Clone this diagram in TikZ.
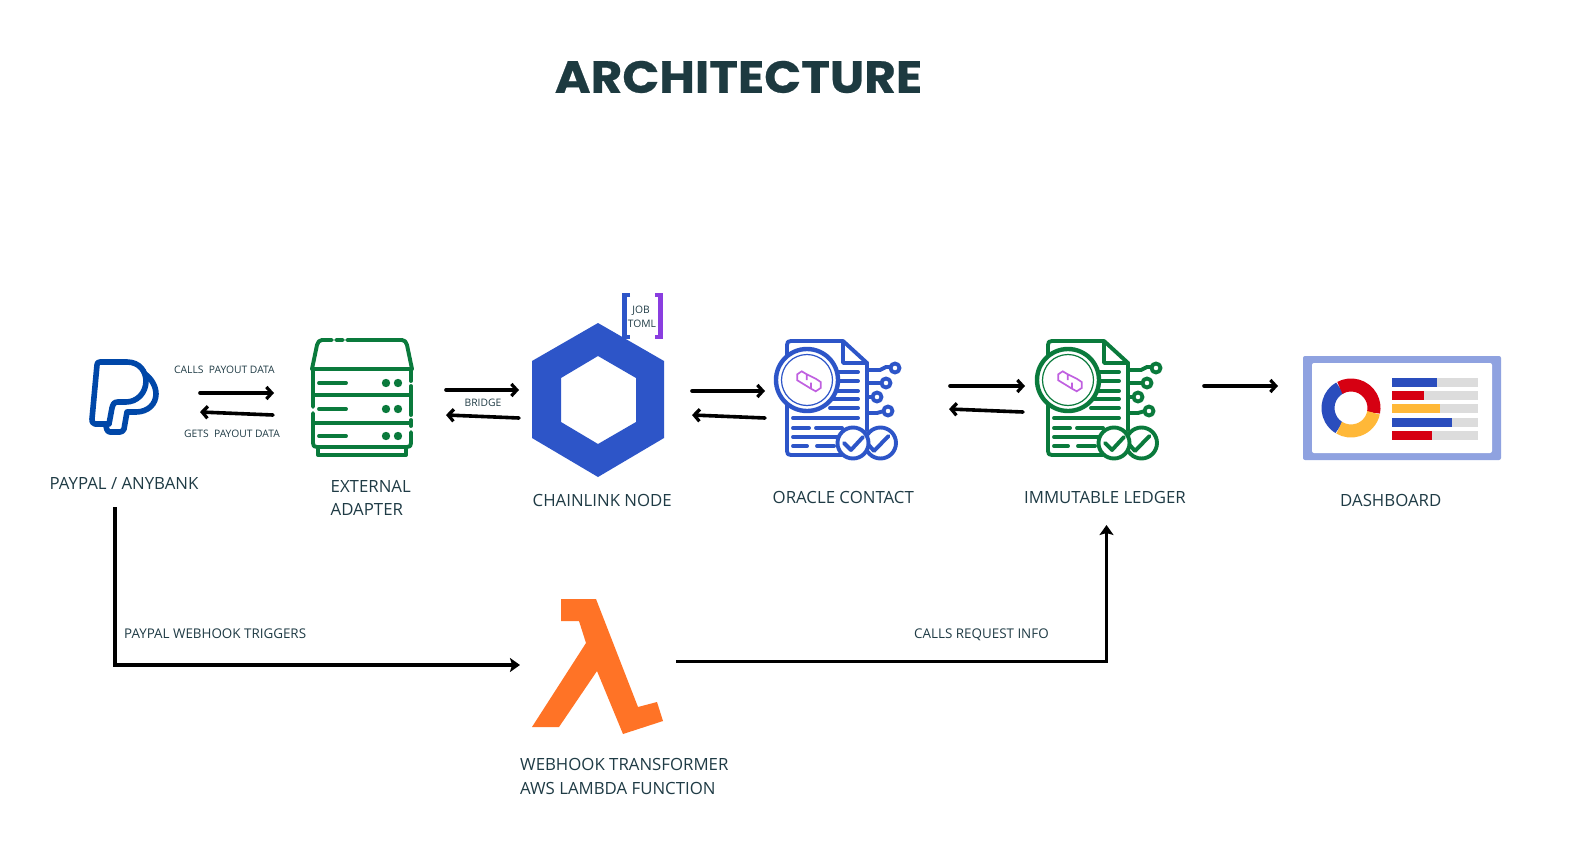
\documentclass[tikz,border=0pt]{standalone}
\usepackage{fontspec}
\setmainfont{Open Sans}
\newfontfamily\titlefont{Poppins}[FakeStretch=1.08,BoldFeatures={FakeBold=0.5}]
\usetikzlibrary{arrows.meta}
\definecolor{txt}{HTML}{1F3B45}
\definecolor{titlec}{HTML}{1D3A40}
\definecolor{cblue}{HTML}{2D55C8}
\definecolor{cgreen}{HTML}{0A7A3C}
\definecolor{cpp}{HTML}{0047A8}
\definecolor{cpink}{HTML}{C060E0}
\definecolor{cviolet}{HTML}{8A3EE0}
\definecolor{clam}{HTML}{FF7326}
\definecolor{dframe}{HTML}{8FA2E0}
\definecolor{dblue}{HTML}{2A4DBD}
\definecolor{dred}{HTML}{D60012}
\definecolor{dyel}{HTML}{FFB838}
\definecolor{dgray}{HTML}{DCDCDC}
\tikzset{
  lab/.style={anchor=west,inner sep=0pt,text=txt,font=\fontsize{16.8}{16.8}\selectfont},
  small/.style={anchor=west,inner sep=0pt,text=txt,font=\fontsize{10.3}{10.3}\selectfont},
  mid/.style={anchor=west,inner sep=0pt,text=txt,font=\fontsize{13.4}{13.4}\selectfont},
  flow/.style={line width=3.6pt,line cap=round,-{Straight Barb[length=5.5pt,width=12pt,line width=3.2pt]}},
  route/.style={line width=3.2pt,-{Stealth[length=10pt,width=14pt,inset=2pt]}},
  icon/.style={line width=3.9pt,line cap=round,line join=round},
}
\newcommand{\docicon}[2]{%
\begin{scope}[shift={(#2,0)},icon,draw=#1]
  \draw (843,341) -- (791,341) .. controls (788,341) and (787,342) .. (787,345) -- (787,451) .. controls (787,454) and (788,455) .. (791,455) -- (842,455);
  \draw (843,341) -- (843,363) -- (867,363) -- cycle;
  \draw (867,363) -- (867,430);
  \foreach \yy in {372,381,391,399,408}{\draw (830,\yy) -- (858,\yy);}
  \draw (793,418) -- (858,418);
  \draw (793,428) -- (809,428) (816,428) -- (842,428);
  \draw (793,437) -- (838,437);
  \draw (793,446) -- (807,446) (817,446) -- (834,446);
  \draw (867,370) -- (880,370) -- (886,367) -- (891,367);
  \draw (867,383) -- (882,383);
  \draw (867,397) -- (873,397);
  \draw (867,413) -- (877,413) -- (884,411);
  \foreach \cx/\cy in {895/368,886/383,877/397,888/411}{\draw[fill=white] (\cx,\cy) circle[radius=4.5];}
  \draw[fill=white] (880.5,443) circle[radius=15.5];
  \draw (874,451) -- (888.5,436) (867,443) -- (874,451);
  \draw[fill=white] (853,443) circle[radius=15.5];
  \draw (844,443) -- (851,450) -- (863,437);
  \draw[fill=white,line width=4.4pt] (807,380) circle[radius=31];
  \draw[line width=1.2pt] (807,380) circle[radius=25.5];
  \draw[cpink,line width=1.7pt,line cap=butt,line join=miter]
    (806.7,380) -- (806.7,374.3) -- (801.7,371.3) -- (797.3,374.3) -- (797.3,380.3) -- (801.7,383) -- (811,388.7) -- (815.7,391.3) -- (820.7,388) -- (820.7,382) -- (815.7,378.7) -- (806.7,374.3)
    (811,388.7) -- (811,382.5);
\end{scope}}
\begin{document}
\begin{tikzpicture}[x=1pt,y=-1pt]
\useasboundingbox (0,0) rectangle (1583,843);
\fill[white] (0,0) rectangle (1583,843);
% title
\node[anchor=center,inner sep=0pt,text=titlec,font=\titlefont\bfseries\fontsize{45}{45}\selectfont] (title) at (738.5,77) {ARCHITECTURE};
% paypal
\begin{scope}[cpp,line width=5.6pt,line join=round,line cap=round]
  \draw (100,362) -- (127,362) .. controls (140,362) and (146,372) .. (146,381) .. controls (146,393) and (137,402) .. (126,402) -- (118,402) .. controls (114,402) and (113,404) .. (112,408) -- (109,424) -- (95,424) .. controls (92,424) and (92,421) .. (92,419) -- (97,365) .. controls (97,363) and (98,362) .. (100,362) -- cycle;
  \draw (145,374) .. controls (152,379) and (156,387) .. (156,394) .. controls (156,404) and (148,412) .. (136,412) -- (127,412) -- (124,429) .. controls (123,431) and (122,432) .. (120,432) -- (110,432) .. controls (107,432) and (106,428) .. (106,424);
\end{scope}
% external adapter
\begin{scope}[cgreen,icon]
  \draw (312,369) -- (317,345) .. controls (318,342) and (319,340) .. (322,340) -- (332,340) (336,340) -- (343,340) (347,340) -- (402,340) .. controls (405,340) and (406,342) .. (407,345) -- (412,369);
  \draw (312,369) -- (412,369);
  \draw (313,369) -- (313,407) (313,413) -- (313,443) .. controls (313,446) and (314,447) .. (317,447) -- (407,447) .. controls (410,447) and (411,446) .. (411,443) -- (411,432);
  \draw (411,369) -- (411,381) (411,386) -- (411,415) (411,420) -- (411,426);
  \draw (313,395) -- (411,395) (313,423) -- (411,423);
  \draw (318,447) -- (318,455) -- (406,455) -- (406,447);
  \foreach \yy in {383,409,436}{
    \draw (319,\yy) -- (346,\yy);
    \fill (386,\yy) circle[radius=4.2];
    \fill (398,\yy) circle[radius=4.2];
  }
\end{scope}
% job bracket
\draw[line width=4.6pt,color=cblue] (630,295) -- (624.5,295) -- (624.5,337) -- (630,337);
\draw[line width=4.6pt,color=cviolet] (655,295) -- (660.5,295) -- (660.5,337) -- (655,337);
\node[inner sep=0pt,text=txt,font=\fontsize{10.3}{10.3}\selectfont] (job) at (641,311) {JOB};
\node[inner sep=0pt,text=txt,font=\fontsize{10.3}{10.3}\selectfont] (toml) at (642,324) {TOML};
% chainlink
\fill[cblue,even odd rule] (598,323) -- (664,361) -- (664,438) -- (598,477) -- (532,438) -- (532,361) -- cycle
  (598,356) -- (636,378) -- (636,422) -- (598,444) -- (561,422) -- (561,378) -- cycle;
\docicon{cblue}{0}
\docicon{cgreen}{261}
% dashboard
\fill[dframe,rounded corners=2pt] (1303,356) rectangle (1501,460);
\fill[white,rounded corners=2pt] (1312,363) rectangle (1492,453);
\begin{scope}[line width=13pt]
  \draw[dblue] ([shift={(-119:23)}]1351,408) arc[start angle=-119,end angle=-239,radius=23];
  \draw[dred] ([shift={(-119:23)}]1351,408) arc[start angle=-119,end angle=12,radius=23];
  \draw[dyel] ([shift={(12:23)}]1351,408) arc[start angle=12,end angle=121,radius=23];
\end{scope}
\foreach \yy/\xx/\cc in {378/1437/dblue,391/1424/dred,404/1440/dyel,418/1452/dblue,431/1432/dred}{
  \fill[dgray] (1392,\yy) rectangle (1478,\yy+9);
  \fill[\cc] (1392,\yy) rectangle (\xx,\yy+9);
}
% lambda
\fill[clam] (561,599) -- (596,599) -- (638,707) -- (657,702) -- (663,721) -- (623,734) -- (597,671) -- (559,727) -- (532,727) -- (586,643) -- (579,621) -- (561,621) -- cycle;
% labels
\node[lab] (lpay) at (49.5,483.2) {PAYPAL / ANYBANK};
\node[lab] (lext) at (330.5,486.2) {EXTERNAL};
\node[lab] (lext2) at (330.5,509.2) {ADAPTER};
\node[lab] (lchain) at (532.5,500.2) {CHAINLINK NODE};
\node[lab] (lora) at (772.5,497.2) {ORACLE CONTACT};
\node[lab] (lled) at (1024,497.2) {IMMUTABLE LEDGER};
\node[lab] (ldash) at (1340,500.2) {DASHBOARD};
\node[lab] (lweb) at (520,764.2) {WEBHOOK TRANSFORMER};
\node[lab] (laws) at (520,788.2) {AWS LAMBDA FUNCTION};
\node[small] (lcalls) at (174,370) {CALLS\ \ PAYOUT DATA};
\node[small] (lgets) at (184,434) {GETS\ \ PAYOUT DATA};
\node[small] (lbridge) at (464.5,403) {BRIDGE};
\node[mid] (lhook) at (124,634) {PAYPAL WEBHOOK TRIGGERS};
\node[mid] (lreq) at (914,634.5) {CALLS REQUEST INFO};
% connector ends
\foreach \nm/\xx/\yy in {a1/200/393,a2/274/393,b1/273/415,b2/200/412,c1/446/390,c2/519/390,d1/519/418,d2/446/415,
  e1/692/391,e2/765/391,f1/765/418,f2/692/415,g1/950/386,g2/1025/386,h1/1023/412,h2/949/409,i1/1204/386,i2/1278/386,
  j1/115/507,j2/115/665,j3/520/665,k1/676/661.5,k2/1106.5/661.5,k3/1106.5/525}{\coordinate (\nm) at (\xx,\yy);}
\draw[flow] (a1) -- (a2);
\draw[flow] (b1) -- (b2);
\draw[flow] (c1) -- (c2);
\draw[flow] (d1) -- (d2);
\draw[flow] (e1) -- (e2);
\draw[flow] (f1) -- (f2);
\draw[flow] (g1) -- (g2);
\draw[flow] (h1) -- (h2);
\draw[flow] (i1) -- (i2);
\draw[route] (j1) -- (j2) -- (j3);
\draw[route] (k1) -- (k2) -- (k3);
\end{tikzpicture}
\end{document}
